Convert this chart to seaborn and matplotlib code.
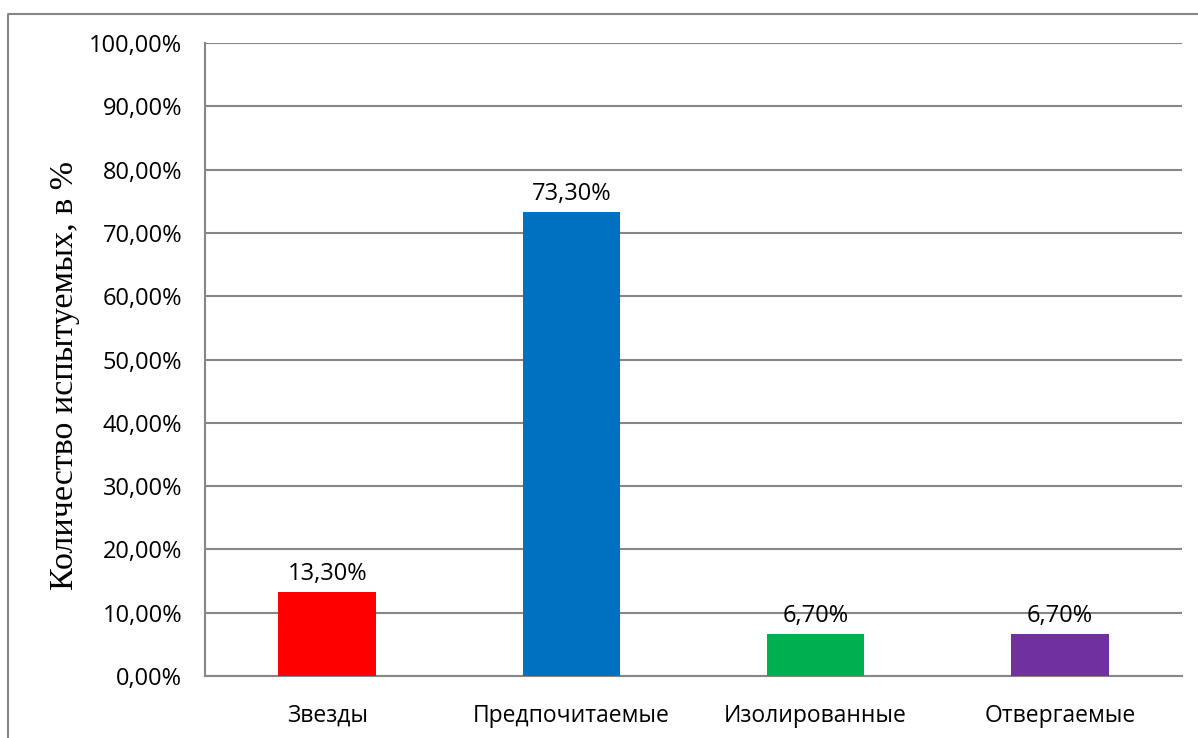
import matplotlib
matplotlib.use("Agg")
import matplotlib.pyplot as plt
import seaborn as sns
import pandas as pd
from matplotlib.lines import Line2D
from matplotlib.ticker import FixedLocator

# данные
categories = ["Звезды", "Предпочитаемые", "Изолированные", "Отвергаемые"]
values = [13.3, 73.3, 6.7, 6.7]
colors = ["#FF0000", "#0070C0", "#00B050", "#7030A0"]
yticks = [0, 10, 20, 30, 40, 50, 60, 70, 80, 90, 100]

df = pd.DataFrame({"cat": categories, "val": values})

sns.set_style("white")
plt.rcParams["font.family"] = ["Open Sans", "DejaVu Sans"]
plt.rcParams["text.color"] = "black"
plt.rcParams["xtick.labelcolor"] = "black"
plt.rcParams["ytick.labelcolor"] = "black"
plt.rcParams["axes.labelcolor"] = "black"

fig = plt.figure(figsize=(11.98, 7.38), dpi=100)
ax = fig.add_axes([205 / 1198, 1 - 676 / 738, (1182 - 205) / 1198, (676 - 43) / 738])

sns.barplot(data=df, x="cat", y="val", hue="cat", palette=colors, saturation=1,
            legend=False, dodge=False, width=0.4, ax=ax, zorder=3, linewidth=0)

grid_c = "#868686"
ax.set_ylim(0, 100)
ax.set_xlim(-0.5, len(categories) - 0.5)
ax.set_yticks(yticks)
ax.set_yticklabels([f"{t:.2f}".replace(".", ",") + "%" for t in yticks], fontsize=17)
ax.yaxis.grid(True, color=grid_c, linewidth=1.5, zorder=0)
ax.set_axisbelow(True)

# метки категорий без засечек, засечки на границах
ax.tick_params(axis="x", length=0, labelsize=16.5, pad=20)
ax.xaxis.set_minor_locator(FixedLocator([i - 0.5 for i in range(len(categories) + 1)]))
ax.tick_params(axis="x", which="minor", length=9, width=1.5, color=grid_c, direction="out")
ax.tick_params(axis="y", length=8, width=1.5, color=grid_c, direction="out", pad=8.5)

for side in ["top", "right"]:
    ax.spines[side].set_visible(False)
for side in ["left", "bottom"]:
    ax.spines[side].set_color(grid_c)
    ax.spines[side].set_linewidth(1.5)

ax.set_xlabel("")
ax.set_ylabel("Количество испытуемых, в %", fontsize=24.5,
              family=["Liberation Serif", "DejaVu Serif"])
ax.yaxis.set_label_coords(-0.128, 0.4755)

for i, v in enumerate(values):
    ax.annotate(f"{v:.2f}".replace(".", ",") + "%", (i, v), xytext=(0, 4),
                textcoords="offset points", ha="center", va="bottom", fontsize=17)

# рамка диаграммы (видны только верх и левый край)
fig.lines.append(Line2D([8 / 1198, 8 / 1198, 1.0], [0.0, 1 - 13.5 / 738, 1 - 13.5 / 738],
                        transform=fig.transFigure, color=grid_c, linewidth=1.5))

fig.savefig("out.png", dpi=100)
